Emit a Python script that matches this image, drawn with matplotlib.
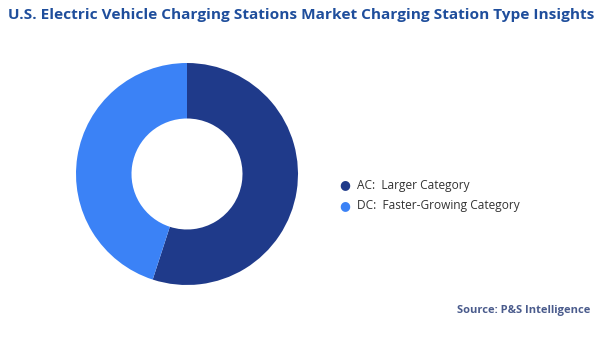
import matplotlib.pyplot as plt

# charging station type shares (%)
types = ["AC", "DC"]
descriptions = ["Larger Category", "Faster-Growing Category"]
shares = [55, 45]
colors = ["#1f3a8a", "#3b82f6"]

title = "U.S. Electric Vehicle Charging Stations Market Charging Station Type Insights"
source = "Source: P&S Intelligence"

W, H = 600, 337
fig = plt.figure(figsize=(W / 100, H / 100), dpi=100)
fig.patch.set_facecolor("white")

# donut axes placed in pixel units
cx, cy, R = 187, 174, 111
ax = fig.add_axes([(cx - R) / W, (H - cy - R) / H, 2 * R / W, 2 * R / H])
ax.pie(
    shares,
    colors=colors,
    startangle=90,
    counterclock=False,
    radius=1,
    wedgeprops=dict(width=0.5, linewidth=0),
)
ax.set_xlim(-1, 1)
ax.set_ylim(-1, 1)
ax.set_aspect("equal")
ax.axis("off")

# title
fig.text(8 / W, 1 - 15 / H, title, fontsize=11.1, fontweight="bold",
         color="#1f4e9c", family="Open Sans", va="center", ha="left")

# legend
for i, (t, d, c) in enumerate(zip(types, descriptions, colors)):
    y = 1 - (185 + i * 21) / H
    fig.text(345 / W, y, "\u25CF", fontsize=9, color=c, ha="center",
             va="center", family="DejaVu Sans")
    fig.text(357 / W, y, f"{t}:  {d}", fontsize=8.6, color="#333333",
             ha="left", va="center", family="Open Sans")

# source
fig.text(590 / W, 1 - 311 / H, source, fontsize=8, fontweight="bold",
         color="#4a5b8c", ha="right", va="center", family="Open Sans")

fig.savefig("out.png", dpi=100, facecolor="white")
